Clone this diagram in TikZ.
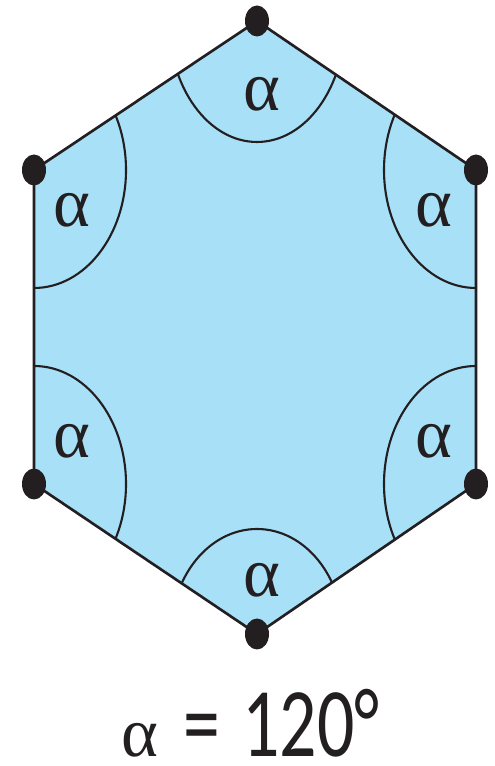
\documentclass[tikz,border=0pt]{standalone}
\usepackage{fontspec}
\usetikzlibrary{shapes.geometric}
\newfontfamily\alphafont{Liberation Serif}
\newfontfamily\captionfont{Carlito}[FakeStretch=0.75]
\definecolor{hexblue}{RGB}{168,224,248}
\definecolor{inkblack}{RGB}{35,31,32}

\begin{document}
\begin{tikzpicture}[
	x=0.02cm, y=0.02cm,
	% Define the styles for the vertices, the arcs and the labels
	vertex/.style={ellipse, fill=inkblack, inner sep=0pt, minimum width=4.8mm, minimum height=6.2mm},
	anglearc/.style={line width=1.2pt, inkblack},
	edge/.style={line width=1.5pt, inkblack, line join=miter},
	alphalabel/.style={font=\alphafont\fontsize{40}{40}\selectfont, inner sep=0pt, text=inkblack}
	]
	
	\useasboundingbox (0,0) rectangle (494,766);
	
	% --- VERTICES ---
	% Format: \coordinate (internal_name) at (x,y);
	
	\coordinate (v1) at (257, 745);
	\coordinate (v2) at (476, 596);
	\coordinate (v3) at (476, 282);
	\coordinate (v4) at (257, 132);
	\coordinate (v5) at (34, 282);
	\coordinate (v6) at (34, 596);
	
	% --- HEXAGON ---
	\fill[hexblue] (v1) -- (v2) -- (v3) -- (v4) -- (v5) -- (v6) -- cycle;
	
	% --- ARCS ---
	% Each arc is an ellipse round its vertex, cut off by the hexagon.
	\begin{scope}
		\clip (v1) -- (v2) -- (v3) -- (v4) -- (v5) -- (v6) -- cycle;
		\draw[anglearc] (v1) ellipse [x radius=88, y radius=121];
		\draw[anglearc] (v2) ellipse [x radius=92, y radius=118];
		\draw[anglearc] (v3) ellipse [x radius=92, y radius=118];
		\draw[anglearc] (v4) ellipse [x radius=86, y radius=105];
		\draw[anglearc] (v5) ellipse [x radius=92, y radius=118];
		\draw[anglearc] (v6) ellipse [x radius=92, y radius=118];
	\end{scope}
	
	% --- EDGES ---
	\draw[edge] (v1) -- (v2) -- (v3) -- (v4) -- (v5) -- (v6) -- cycle;
	
	% --- DOTS ---
	\foreach \i in {1,...,6}
		\node[vertex] (d\i) at (v\i) {};
	
	% --- LABELS ---
	\node[alphalabel] (a1) at (262, 672) {α};
	\node[alphalabel] (a2) at (434, 556) {α};
	\node[alphalabel] (a3) at (434, 325) {α};
	\node[alphalabel] (a4) at (262, 186) {α};
	\node[alphalabel] (a5) at (72, 325) {α};
	\node[alphalabel] (a6) at (72, 556) {α};
	
	\node[inner sep=0pt, anchor=base west, text=inkblack] (caption) at (121, 10)
		{\alphafont\fontsize{40}{40}\selectfont α\hspace{0.18cm}\captionfont\fontsize{56}{56}\selectfont{} =\hspace{0.1cm} 120°};
	
\end{tikzpicture}
\end{document}
